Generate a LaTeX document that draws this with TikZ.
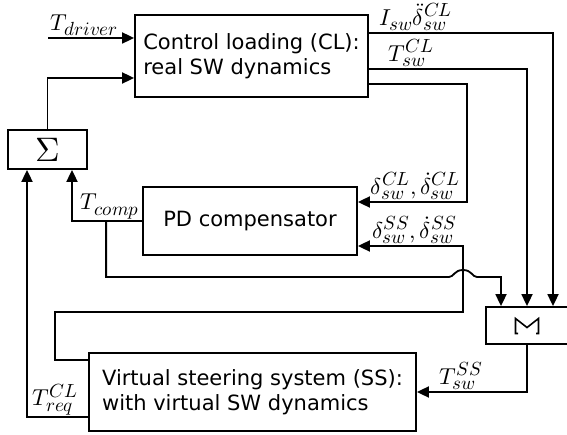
\documentclass[tikz,border=0pt]{standalone}
\usepackage{fontspec}
\usepackage{unicode-math}
\setmainfont{DejaVu Sans}
\setmathfont{Latin Modern Math}
\DeclareMathSizes{23}{23}{19}{14}
\usetikzlibrary{arrows.meta, positioning, calc}

\begin{document}
\begin{tikzpicture}[x=1pt, y=-1pt,
  blk/.style={draw, line width=1.8pt, inner sep=0pt, align=left, font=\fontsize{21}{25}\selectfont},
  wire/.style={line width=1.8pt},
  sig/.style={wire, -{Triangle[length=12pt,width=11pt]}},
  lbl/.style={inner sep=1pt, font=\fontsize{23}{27}\selectfont}]
  \useasboundingbox (0,0) rectangle (567,435);

  % blocks
  \node[blk, minimum width=233pt, minimum height=82pt] (cl) at (251.5,56) {Control loading (CL):\\real SW dynamics};
  \node[blk, minimum width=79pt, minimum height=39pt, font=\fontsize{34}{34}\selectfont] (sum) at (47.5,149.5) {$\Sigma$};
  \node[blk, minimum width=214pt, minimum height=68pt] (pd) at (250,221) {PD compensator};
  \node[blk, minimum width=82pt, minimum height=37pt] (mux) at (527,325.5) {};
  \node[blk, minimum width=327pt, minimum height=78pt] (ss) at (252.5,392) {Virtual steering system (SS):\\with virtual SW dynamics};

  % mux symbol
  \begin{scope}[shift={(mux.center)}]
    \draw[line width=1.6pt] (-9,8) -- (-11.5,8) -- (-11.5,-7) -- (0,2) -- (11.5,-7) -- (11.5,8) -- (9,8);
  \end{scope}

  % inputs of CL
  \coordinate (drv) at (48,38);
  \draw[sig] (drv) -- (drv -| cl.west) node[lbl, pos=0, anchor=south west, xshift=1pt] (tdrv) {$T_{driver}$};
  \draw[sig] (sum.north) |- ([yshift=-22pt]cl.west);

  % outputs of CL
  \draw[sig] ([yshift=23pt]cl.east) -| ([xshift=26pt]mux.north) node[lbl, pos=0, anchor=south west, xshift=9pt] (iacc) {$I_{sw}\ddot{\delta}_{sw}^{CL}$};
  \draw[sig] ([yshift=-13pt]cl.east) -| (mux.north) node[lbl, pos=0, anchor=south west, xshift=18pt] (tcl) {$T_{sw}^{CL}$};
  \coordinate (cla) at (467,202);
  \draw[sig] ([yshift=-28pt]cl.east) -| (cla) -- (cla -| pd.east) node[lbl, pos=0, anchor=south east, xshift=-5pt] (dcl) {$\delta_{sw}^{CL},\dot{\delta}_{sw}^{CL}$};

  % SS states to PD
  \coordinate (ssa) at (55,312);
  \coordinate (ssb) at (463,246);
  \draw[sig] ([yshift=32pt]ss.west) -| (ssa) -| (ssb) -- (ssb -| pd.east) node[lbl, pos=0, anchor=south east, xshift=-4pt] (dss) {$\delta_{sw}^{SS},\dot{\delta}_{sw}^{SS}$};

  % compensation torque
  \draw[sig] (pd.west) -| ([xshift=24.5pt]sum.south) node[lbl, pos=0, anchor=south east, xshift=-1pt] (tcomp) {$T_{comp}$};
  \path (pd.west) -- ++(-36,0) coordinate (br);
  \draw[sig] (br) |- (449,277) .. controls (454,277) and (454,270) .. (463,270) .. controls (472,270) and (472,277) .. (477,277) -| ([xshift=-26pt]mux.north);

  % requested torque
  \draw[sig] ([yshift=-25pt]ss.west) -| ([xshift=-20.5pt]sum.south) node[lbl, pos=0.5, anchor=south west, xshift=4pt] (treq) {$T_{req}^{CL}$};

  % mux to SS
  \draw[sig] (mux.south) |- (ss.east) node[lbl, pos=0.8, above] (tss) {$T_{sw}^{SS}$};
\end{tikzpicture}
\end{document}
